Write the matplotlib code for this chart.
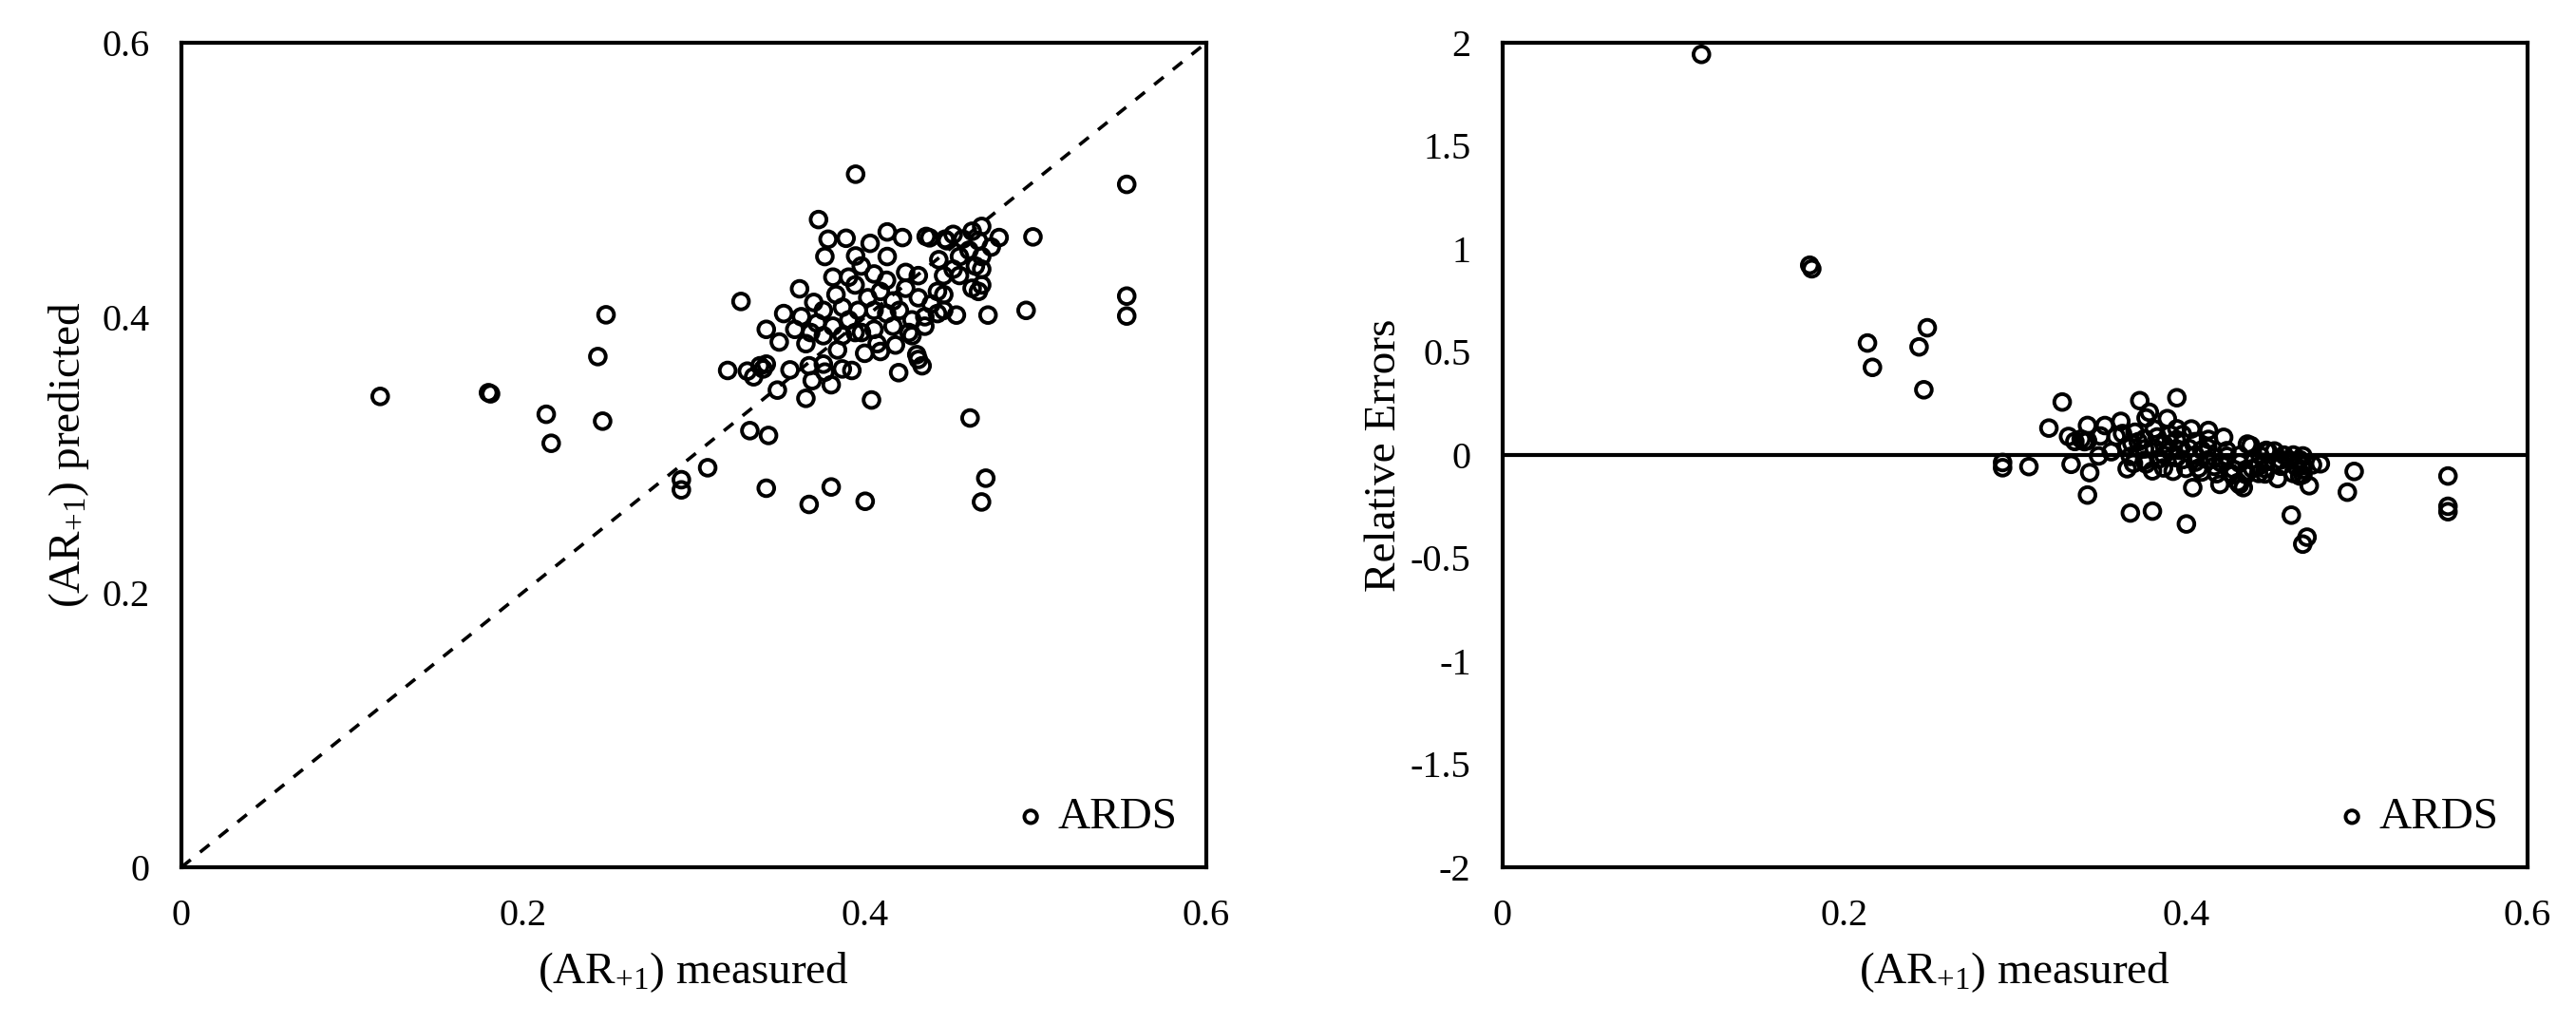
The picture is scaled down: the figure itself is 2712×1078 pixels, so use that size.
import matplotlib
matplotlib.use("Agg")
import matplotlib.pyplot as plt
import numpy as np

plt.rcParams['font.family'] = ['Liberation Serif', 'DejaVu Serif']
plt.rcParams['mathtext.fontset'] = 'custom'
plt.rcParams['mathtext.rm'] = 'Liberation Serif'
plt.rcParams['mathtext.it'] = 'Liberation Serif:italic'

# ==========================
# Data
# ==========================
# measured (AR+1) values
ar_measured = [
    0.1164, 0.1798, 0.1810, 0.2136, 0.2165, 0.2466, 0.2438, 0.2486,
    0.2927, 0.2927, 0.3081, 0.3328, 0.3437, 0.3424, 0.3675, 0.3804, 0.4003,
    0.4709, 0.4684, 0.4617, 0.5534, 0.5534, 0.5534, 0.4985, 0.4945,
    0.3947, 0.3730,
    # lower part of the cluster
    0.3489, 0.3656, 0.4040, 0.4199, 0.4314, 0.4336,
    0.3198, 0.3313, 0.3350, 0.3387, 0.3424, 0.3406, 0.3563, 0.3675, 0.3693,
    0.3758, 0.3804, 0.3767, 0.3869, 0.3925, 0.4092, 0.4180, 0.4000,
    # upper-left part of the cluster
    0.3786, 0.3891, 0.4032, 0.4132, 0.4221, 0.4360, 0.4380, 0.4470,
    0.3767, 0.3947, 0.4132, 0.3814, 0.3906, 0.3980, 0.4055, 0.4128,
    0.4240, 0.4314, 0.4434, 0.4462, 0.3619, 0.3276, 0.3526, 0.3424,
    0.3500, 0.3656, 0.3702, 0.3841, 0.4073, 0.4305,
    # dense core
    0.3832, 0.3944, 0.4018, 0.4092, 0.4166, 0.4240, 0.4314, 0.4389, 0.4426,
    0.3758, 0.3870, 0.3962, 0.4055, 0.4129, 0.4203, 0.4277, 0.4352, 0.4426,
    0.3629, 0.3721, 0.3814, 0.3907, 0.3981, 0.4055, 0.4166, 0.4259, 0.4352,
    0.3591, 0.3684, 0.3758, 0.3870, 0.3944, 0.4277,
    # right part of the cluster
    0.4722, 0.4537, 0.4463, 0.4463,
    0.4685, 0.4629, 0.4518, 0.4481, 0.4574, 0.4666, 0.4787, 0.4741, 0.4611,
    0.4555, 0.4685,
    0.4518, 0.4648, 0.4685, 0.4555, 0.4629, 0.4666, 0.4685,
]

# predicted (AR+1) values
ar_predicted = [
    0.3426, 0.3453, 0.3445, 0.3296, 0.3085, 0.3246, 0.3716, 0.4020,
    0.2820, 0.2746, 0.2907, 0.3177, 0.3142, 0.2758, 0.2640, 0.2767, 0.2663,
    0.2831, 0.2658, 0.3269, 0.4969, 0.4156, 0.4011, 0.4587, 0.4052,
    0.5043, 0.4713,
    0.3472, 0.3412, 0.3400, 0.3599, 0.3695, 0.3649,
    0.3615, 0.3610, 0.3569, 0.3649, 0.3661, 0.3626, 0.3619, 0.3649, 0.3541,
    0.3661, 0.3511, 0.3603, 0.3626, 0.3615, 0.3753, 0.3800, 0.3740,
    0.4570, 0.4577, 0.4540, 0.4623, 0.4582, 0.4590, 0.4580, 0.4570,
    0.4444, 0.4448, 0.4444, 0.4294, 0.4294, 0.4375, 0.4317, 0.4271,
    0.4328, 0.4305, 0.4421, 0.4305, 0.4209, 0.4117, 0.4029, 0.3914,
    0.3822, 0.3810, 0.4110, 0.3764, 0.3810, 0.3730,
    0.4167, 0.4237, 0.4144, 0.4190, 0.4121, 0.4213, 0.4144, 0.4098, 0.4190,
    0.4052, 0.4075, 0.4052, 0.4052, 0.4029, 0.4052, 0.3983, 0.4006, 0.4029,
    0.4006, 0.3960, 0.3937, 0.3983, 0.3891, 0.3914, 0.3937, 0.3891, 0.3937,
    0.3914, 0.3891, 0.3868, 0.3868, 0.3891, 0.3868,
    0.4018, 0.4018, 0.4052, 0.4167,
    0.4663, 0.4628, 0.4605, 0.4559, 0.4571, 0.4559, 0.4582, 0.4513, 0.4490,
    0.4444, 0.4444,
    0.4352, 0.4375, 0.4352, 0.4306, 0.4213, 0.4190, 0.4237,
]

series_label = "ARDS"
x_ticks = [0, 0.2, 0.4, 0.6]
y_ticks_left = [0, 0.2, 0.4, 0.6]
y_ticks_right = [-2, -1.5, -1, -0.5, 0, 0.5, 1, 1.5, 2]

measured = np.array(ar_measured)
predicted = np.array(ar_predicted)
relative_errors = (predicted - measured) / measured


def fmt(v):
    return "%g" % v


fig = plt.figure(figsize=(13.56, 5.39), dpi=200)
ax1 = fig.add_axes([0.0704, 0.1531, 0.3979, 0.8052])
ax2 = fig.add_axes([0.5833, 0.1531, 0.3979, 0.8052])

marker_kw = dict(s=36, facecolors='none', edgecolors='black', linewidths=1.4)
legend_kw = dict(loc='lower right', frameon=False, fontsize=17, handletextpad=0.3,
                 handlelength=0.6, borderaxespad=0.25, markerscale=0.8)

# ==========================
# Left: predicted vs measured
# ==========================
ax1.plot([0, 0.6], [0, 0.6], color='black', lw=1.3, linestyle=(0, (3.5, 3.5)))
ax1.scatter(measured, predicted, label=series_label, **marker_kw)
ax1.set_xlim(0, 0.6)
ax1.set_ylim(0, 0.6)
ax1.set_xticks(x_ticks)
ax1.set_xticklabels([fmt(v) for v in x_ticks])
ax1.set_yticks(y_ticks_left)
ax1.set_yticklabels([fmt(v) for v in y_ticks_left])
ax1.tick_params(axis='both', length=0, labelsize=14.5)
ax1.tick_params(axis='x', pad=12)
ax1.tick_params(axis='y', pad=12)
ax1.set_xlabel(r'(AR$_{+1}$) measured', fontsize=17, labelpad=6)
ax1.set_ylabel(r'(AR$_{+1}$) predicted', fontsize=17, labelpad=4)
ax1.legend(**legend_kw)

# ==========================
# Right: relative errors
# ==========================
ax2.axhline(0, color='black', lw=1.5)
ax2.scatter(measured, relative_errors, label=series_label, **marker_kw)
ax2.set_xlim(0, 0.6)
ax2.set_ylim(-2, 2)
ax2.set_xticks(x_ticks)
ax2.set_xticklabels([fmt(v) for v in x_ticks])
ax2.set_yticks(y_ticks_right)
ax2.set_yticklabels([fmt(v) for v in y_ticks_right])
ax2.tick_params(axis='both', length=0, labelsize=14.5)
ax2.tick_params(axis='x', pad=12)
ax2.tick_params(axis='y', pad=12)
ax2.set_xlabel(r'(AR$_{+1}$) measured', fontsize=17, labelpad=6)
ax2.set_ylabel('Relative Errors', fontsize=17, labelpad=2)
ax2.legend(**legend_kw)

for ax in (ax1, ax2):
    for sp in ax.spines.values():
        sp.set_linewidth(1.5)
        sp.set_color('black')

fig.savefig('out.png', dpi=200)
